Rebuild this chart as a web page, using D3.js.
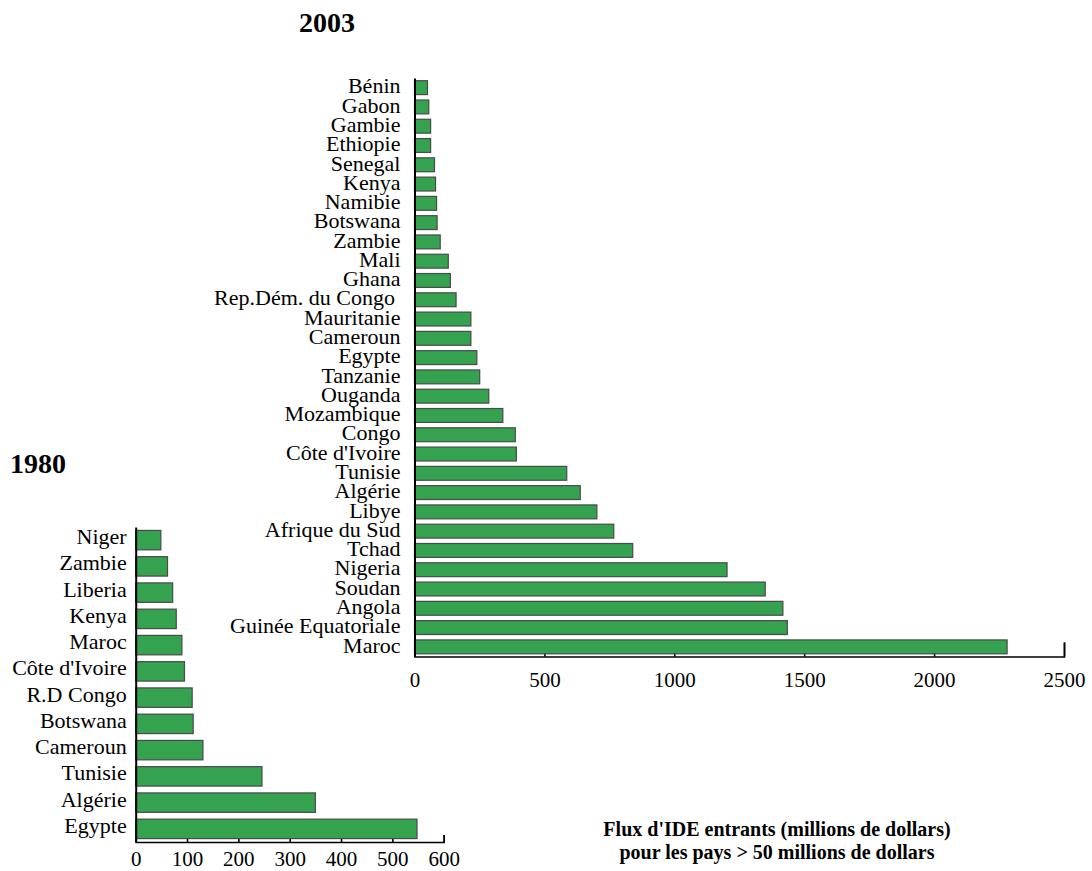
<!DOCTYPE html>
<html>
<head>
<meta charset="utf-8">
<script src="https://cdn.jsdelivr.net/npm/d3@7"></script>
<style>
body { margin: 0; background: #fff; }
svg text { font-family: "Liberation Serif", "Times New Roman", serif; fill: #000; }
</style>
</head>
<body>
<script>
(function(){

var countries2003 = ["Bénin", "Gabon", "Gambie", "Ethiopie", "Senegal", "Kenya", "Namibie", "Botswana",
	"Zambie", "Mali", "Ghana", "Rep.Dém. du Congo ", "Mauritanie", "Cameroun", "Egypte", "Tanzanie",
	"Ouganda", "Mozambique", "Congo", "Côte d'Ivoire", "Tunisie", "Algérie", "Libye", "Afrique du Sud",
	"Tchad", "Nigeria", "Soudan", "Angola", "Guinée Equatoriale", "Maroc"];
var values2003 = [50, 55, 62, 62, 77, 81, 85, 87, 99, 130, 138, 160, 217, 217, 240, 251,
	286, 340, 388, 392, 586, 638, 702, 767, 840, 1203, 1350, 1418, 1435, 2281];
var ticks2003 = [0, 500, 1000, 1500, 2000, 2500];

var countries1980 = ["Niger", "Zambie", "Liberia", "Kenya", "Maroc", "Côte d'Ivoire", "R.D Congo",
	"Botswana", "Cameroun", "Tunisie", "Algérie", "Egypte"];
var values1980 = [49, 62, 72, 79, 90, 95, 110, 112, 131, 246, 350, 548];
var ticks1980 = [0, 100, 200, 300, 400, 500, 600];

var footer = ["Flux d'IDE entrants (millions de dollars)", "pour les pays > 50 millions de dollars"];

var serif = "'Liberation Serif', 'Times New Roman', serif";

var svg = d3.select("body").append("svg")
	.attr("width", 1092)
	.attr("height", 871);

function drawPanel(cfg){
	var x = d3.scaleLinear()
		.domain([0, cfg.ticks[cfg.ticks.length - 1]])
		.range([cfg.left, cfg.right]);
	var y = d3.scaleBand()
		.domain(cfg.names)
		.range([cfg.top, cfg.bottom])
		.paddingInner(cfg.pad)
		.paddingOuter(cfg.pad / 2);

	// x axis first so that the inward ticks sit behind the bars
	var xAxis = svg.append("g")
		.attr("transform", "translate(0," + cfg.bottom + ")")
		.call(d3.axisBottom(x)
			.tickValues(cfg.ticks)
			.tickFormat(d3.format("d"))
			.tickSize(-cfg.tickLen)
			.tickPadding(cfg.labelPad));
	xAxis.selectAll("path, line").attr("stroke", "#000").attr("stroke-width", 1.6);
	xAxis.selectAll("text")
		.style("font-size", "21px")
		.style("font-family", serif);

	svg.append("g").selectAll("rect")
		.data(cfg.values)
		.enter().append("rect")
		.attr("x", x(0))
		.attr("y", function(d, i){ return y(cfg.names[i]); })
		.attr("width", function(d){ return x(d) - x(0); })
		.attr("height", y.bandwidth())
		.attr("fill", "#34a24f")
		.attr("stroke", "#4a4a4a")
		.attr("stroke-width", 1.2);

	var yAxis = svg.append("g")
		.attr("transform", "translate(" + cfg.left + ",0)")
		.call(d3.axisLeft(y).tickSize(0).tickSizeOuter(0).tickPadding(cfg.namePad));
	yAxis.select(".domain").attr("stroke", "#000").attr("stroke-width", 2);
	yAxis.selectAll("text")
		.attr("dy", cfg.nameDy)
		.style("white-space", "pre")
		.style("font-size", "22px")
		.style("font-family", serif);

	svg.append("text")
		.attr("x", cfg.titleX)
		.attr("y", cfg.titleY)
		.attr("text-anchor", cfg.titleAnchor)
		.style("font-size", "28px")
		.style("font-weight", "bold")
		.text(cfg.title);
}

drawPanel({
	names: countries2003, values: values2003, ticks: ticks2003,
	left: 414.5, right: 1064, top: 78, bottom: 656.5, pad: 0.28,
	tickLen: 14, labelPad: 16, namePad: 14, nameDy: "0.26em",
	title: "2003", titleX: 327, titleY: 32, titleAnchor: "middle"
});

drawPanel({
	names: countries1980, values: values1980, ticks: ticks1980,
	left: 135.7, right: 443.7, top: 527, bottom: 842, pad: 0.26,
	tickLen: 7, labelPad: 9, namePad: 9, nameDy: "0.18em",
	title: "1980", titleX: 10, titleY: 473, titleAnchor: "start"
});

svg.append("g").selectAll("text")
	.data(footer)
	.enter().append("text")
	.attr("x", 777)
	.attr("y", function(d, i){ return 836 + i * 23; })
	.attr("text-anchor", "middle")
	.style("font-size", "20px")
	.style("font-weight", "bold")
	.text(function(d){ return d; });

})();
</script>
</body>
</html>
